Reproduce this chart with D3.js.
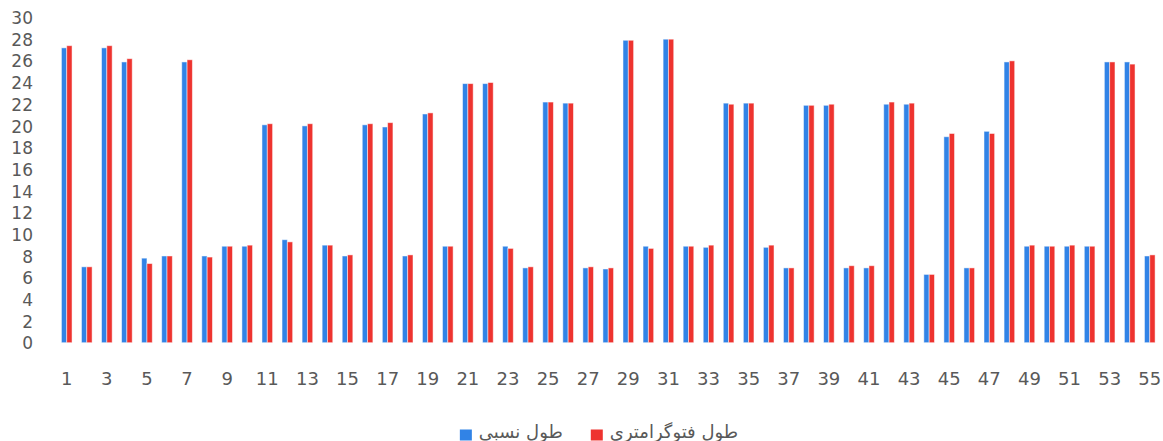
<!DOCTYPE html>
<html>
<head>
<meta charset="utf-8">
<script src="https://cdn.jsdelivr.net/npm/d3@7"></script>
<style>
  html, body { margin: 0; padding: 0; background: #ffffff; }
  svg { display: block; }
</style>
</head>
<body>
<svg id="chart" width="1163" height="441"></svg>
<script>
const categories = [1,2,3,4,5,6,7,8,9,10,11,12,13,14,15,16,17,18,19,20,21,22,23,24,25,26,27,28,29,30,31,32,33,34,35,36,37,38,39,40,41,42,43,44,45,46,47,48,49,50,51,52,53,54,55];
const seriesNames = ["طول نسبی", "طول فتوگرامتری"];
const seriesColors = ["#3183E6", "#EE332F"];
const blueValues = [27.2,7.0,27.2,25.9,7.8,8.0,25.9,8.0,8.9,8.9,
                    20.1,9.5,20.0,9.0,8.0,20.1,19.9,8.0,21.1,8.9,
                    23.9,23.9,8.9,6.9,22.2,22.1,6.9,6.8,27.9,8.9,
                    28.0,8.9,8.8,22.1,22.1,8.8,6.9,21.9,21.9,6.9,
                    6.9,22.0,22.0,6.3,19.0,6.9,19.5,25.9,8.9,8.9,
                    8.9,8.9,25.9,25.9,8.0];
const redValues = [27.4,7.0,27.4,26.2,7.3,8.0,26.1,7.9,8.9,9.0,
                   20.2,9.3,20.2,9.0,8.1,20.2,20.3,8.1,21.2,8.9,
                   23.9,24.0,8.7,7.0,22.2,22.1,7.0,6.9,27.9,8.7,
                   28.0,8.9,9.0,22.0,22.1,9.0,6.9,21.9,22.0,7.1,
                   7.1,22.2,22.1,6.3,19.3,6.9,19.3,26.0,9.0,8.9,
                   9.0,8.9,25.9,25.7,8.1];
const yTicks = [0,2,4,6,8,10,12,14,16,18,20,22,24,26,28,30];
const xTickLabels = [1,3,5,7,9,11,13,15,17,19,21,23,25,27,29,31,33,35,37,39,41,43,45,47,49,51,53,55];

const svg = d3.select("#chart");
const textColor = "#595959";

const x0 = d3.scaleBand().domain(categories).range([56.7, 1159.8]).paddingInner(0.47).paddingOuter(0.235);
const x1 = d3.scaleBand().domain([0, 1]).range([0, x0.bandwidth()]);
const y = d3.scaleLinear().domain([0, 30]).range([342.7, 17.5]);

const rows = categories.map((c, i) => ({ cat: c, vals: [blueValues[i], redValues[i]] }));

const groups = svg.append("g").selectAll("g").data(rows).join("g")
  .attr("transform", d => `translate(${x0(d.cat)},0)`);
groups.selectAll("rect").data(d => d.vals.map((v, k) => ({ v, k }))).join("rect")
  .attr("x", d => x1(d.k))
  .attr("y", d => y(d.v))
  .attr("width", x1.bandwidth())
  .attr("height", d => y(0) - y(d.v))
  .attr("fill", d => seriesColors[d.k])
  .attr("stroke", "rgba(255,255,255,0.55)")
  .attr("stroke-width", 0.9);

// Y axis
const yAxis = d3.axisLeft(y).tickValues(yTicks).tickSize(0).tickPadding(0);
const gy = svg.append("g").attr("transform", "translate(33,0)").call(yAxis);
gy.select(".domain").remove();
gy.selectAll("text").attr("fill", textColor).attr("font-family", "DejaVu Sans, sans-serif").attr("font-size", 17).attr("dy", "0.36em");

// X axis
const xAxis = d3.axisBottom(x0).tickValues(xTickLabels).tickSize(0).tickPadding(0);
const gx = svg.append("g").attr("transform", "translate(0,385)").call(xAxis);
gx.select(".domain").remove();
gx.selectAll("text").attr("fill", textColor).attr("font-family", "DejaVu Sans, sans-serif").attr("font-size", 18).attr("dy", "0");

// Legend
const legend = svg.append("g");
const items = legend.selectAll("g").data(seriesNames).join("g");
items.append("rect").attr("width", 12).attr("height", 11).attr("y", 429.5).attr("fill", (d, i) => seriesColors[i]);
items.append("text").text(d => d).attr("y", 438).attr("fill", textColor)
  .attr("font-family", "DejaVu Sans, Noto Sans, sans-serif").attr("font-size", 18);
let cx = 0;
items.each(function(d, i) {
  const g = d3.select(this);
  const w = g.select("text").node().getComputedTextLength();
  g.select("rect").attr("x", cx);
  g.select("text").attr("x", cx + 19);
  cx += 19 + w + 28;
});
const totalW = cx - 28;
legend.attr("transform", `translate(${599 - totalW / 2},0)`);
</script>
</body>
</html>
